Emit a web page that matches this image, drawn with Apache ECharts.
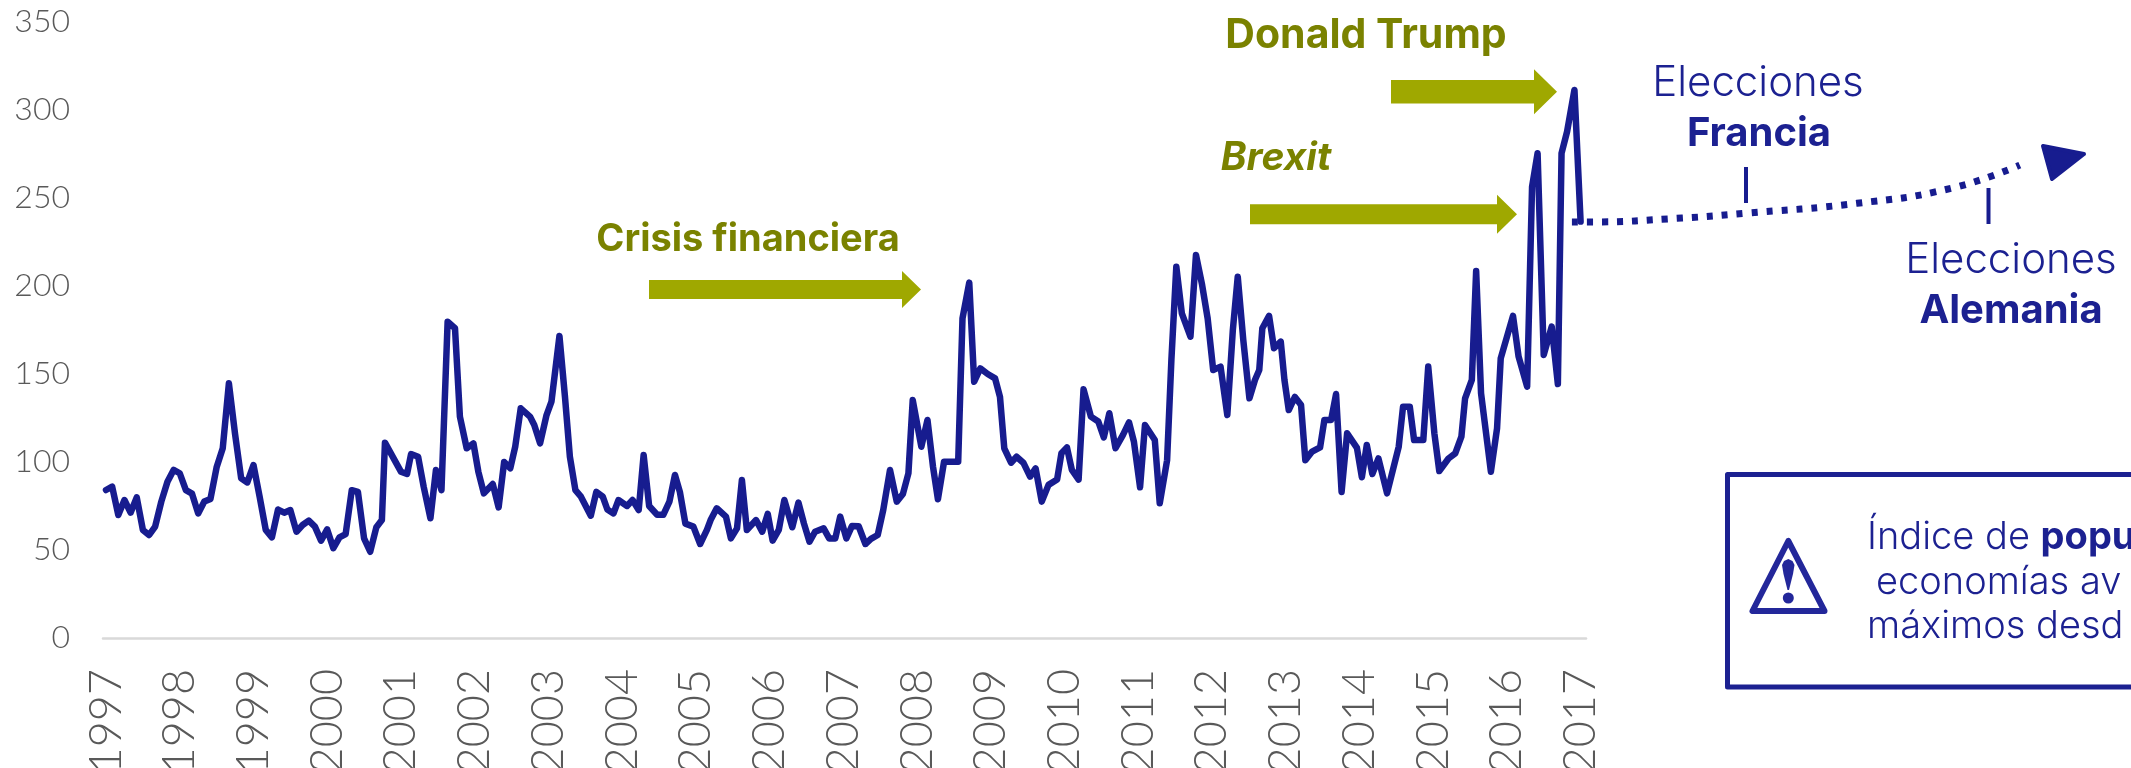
<!DOCTYPE html>
<html lang="es">
<head>
<meta charset="utf-8">
<title>Índice de populismo</title>
<style>html,body{margin:0;padding:0;background:#fff;overflow:hidden}#c{width:2131px;height:768px}</style>
<script src="https://cdn.jsdelivr.net/npm/echarts@6/dist/echarts.min.js"></script>
</head>
<body>
<div id="c"></div>
<script>
const yearLabels = [1997,1998,1999,2000,2001,2002,2003,2004,2005,2006,2007,2008,2009,2010,2011,2012,2013,2014,2015,2016,2017];
const yearMonths = [0,12,24,36,48,60,72,84,96,108,120,132,144,156,168,180,192,204,216,228,240];

// months since January 1997
const months = [
0,1,2,3,4,5,6,7,8,9,
10,11,12,13,14,15,16,17,18,19,
20,21,22,23,24,25,26,27,28,29,
30,31,32,33,34,35,36,37,38,39,
40,41,42,43,44,44.9,45.4,48,49,49.65,
50.8,51.7,52.8,53.7,54.6,55.6,56.8,57.6,58.7,59.8,
60.6,61.5,62.95,63.9,64.8,65.8,66.6,67.5,69,69.7,
70.65,71.7,72.5,73.8,74.7,75.5,76.4,77.3,78.9,79.8,
80.85,81.6,82.6,83.4,84.8,85.7,86.7,87.5,88.4,89.7,
90.7,91.7,92.6,93.4,94.3,95.6,96.7,97.8,98.4,99.4,
100.9,101.7,102.7,103.5,104.3,105.8,106.8,107.7,108.5,109.5,
110.4,111.7,112.7,113.6,114.5,115.4,116.8,117.7,118.7,119.5,
120.5,121.4,122.5,123.6,124.5,125.6,126.5,127.6,128.7,129.7,
130.6,131.3,132.7,133.7,134.6,135.4,136.4,137.5,138.7,139.4,
140.5,141.3,142.3,143.5,144.7,145.5,146.2,147.3,148.2,149.3,
150.4,151.3,152.3,153.4,154.8,155.5,156.4,157.2,158.3,159.1,
160.3,161.5,162.4,163.3,164.3,165.5,166.5,167.3,168.3,169.1,
170.7,171.5,172.7,173.4,174.2,175.1,176.5,177.4,178.4,179.3,
180.2,181.4,182.5,183.4,184.2,185.1,186.1,187,187.7,188.2,
189.3,190.1,191.2,191.8,192.5,193.5,194.5,195.2,196.3,197.6,
198.3,199.4,200.2,201.1,202,203.6,204.4,205.2,206.1,207.1,
208.5,210.4,211.1,212.2,212.9,214.4,215.2,216.2,217,218.5,
219.6,220.6,221.2,222.3,223,223.8,225.4,226.4,227,229,
229.9,231.3,232.1,233,234,235.3,236.3,236.9,237.8,239,
240
];
const populismIndex = [
84.1,86,69.9,78.4,71.2,79.9,61.4,58.5,63.3,77.5,
88.8,95.5,93.6,84,82,70.8,77.5,79,97,107.8,
144.7,116,90.7,88.4,98.3,80.3,61.4,57.2,73,71.2,
72.7,60.4,64.2,66.7,63.3,55.3,61.7,51,57.2,59,
84,83,56.6,49,62.9,67,111,94.5,93.2,104.5,
103,86,68,95.5,84,179.7,176,125.8,107.8,110.6,
94.5,82.2,87.5,74.2,100,96.4,108.7,130.5,125.8,121,
110.6,126.7,134.3,171.6,137,103,84,80.3,69.5,83,
80.3,73,70.8,78.4,75,78.4,72.7,104,75,70,
70,77.5,92.6,83,65,63.3,53.4,61.4,67,73.7,
69,56.6,62.3,89.8,61.4,67,60.4,70.5,55.3,61.4,
78.4,62.9,76.9,65,54.7,60.4,62.3,56.6,56.6,69,
56.6,63.6,63.5,53.4,56.3,58.5,72.7,95.5,77.5,81.8,
93.6,135.2,108.7,123.9,97.3,78.8,100.2,100.2,100.2,181.6,
201.9,145.6,153.2,150,147.5,137,107.8,99.6,103,99.6,
91.7,96.4,77.5,87,90,105,108.3,95.5,90,141.3,
125.8,123,114,127.7,107.8,115.3,122.5,111.6,85.6,121,
112.5,76.5,101,158,211,184.5,171.2,217.6,200.6,181.6,
152.3,154.2,126.7,175,205.3,169.3,136.2,146.6,152.3,176,
183,164.6,168.4,146.6,129.5,137,132.4,101,105.9,108.3,
123.9,123.9,138.6,83,116.3,108,91.3,109.7,93.2,102,
82.2,108.7,131.4,131.4,112.5,112.5,154.2,116.3,94.9,102,
104.9,114.4,136.2,146.6,208.5,139,94.5,119,158.9,183,
160,142.8,256.4,275.4,160.8,176.9,144.3,275.4,287.7,311.4,
236.6
];
const outlookMonths = [238.6,241.2,256.5,266.7,285,300.3,311.5];
const outlookValues = [236.4,236.4,238.6,241.3,247,255.5,268.7];

const FONT = 'Lato';
const NOTE_FONT = 'Inter';
const BLUE = '#171C8F';
const TEXT_BLUE = '#1C2191';
const OLIVE = '#7A8200';
const LIME = '#9FA800';

function arrow(xl, xb, xt, yc, bh, hh) {
  return {type:'polygon', silent:true, shape:{points:[[xl,yc-bh],[xb,yc-bh],[xb,yc-hh],[xt,yc],[xb,yc+hh],[xb,yc+bh],[xl,yc+bh]]}, style:{fill:LIME}};
}
function label(text, x, y, size, color, weight, style, align) {
  return {type:'text', silent:true, x, y, style:{text, fontFamily:NOTE_FONT, fontSize:size, fill:color, fontWeight:weight||'normal', fontStyle:style||'normal', align:align||'center', verticalAlign:'middle'}};
}
function stroke(x1,y1,x2,y2){
  return {type:'line', silent:true, shape:{x1,y1,x2,y2}, style:{stroke:BLUE, lineWidth:4}};
}

const chart = echarts.init(document.getElementById('c'));
chart.setOption({
  animation:false,
  backgroundColor:'#fff',
  textStyle:{fontFamily:FONT},
  grid:[
    {left:103, top:22, width:1483, height:616, containLabel:false, outerBoundsMode:'none'},
    {left:103, top:22, width:2028, height:616, containLabel:false, outerBoundsMode:'none'}
  ],
  xAxis:[
    {type:'value', gridIndex:0, min:-0.49, max:240.88, splitLine:{show:false}, axisTick:{show:false},
     axisLine:{show:true, onZero:false, lineStyle:{color:'#D9D9D9', width:2.5}},
     axisLabel:{customValues:yearMonths, rotate:90, margin:31, fontFamily:FONT, fontWeight:300, fontSize:45, color:'#595959',
       formatter:v=>String(yearLabels[yearMonths.indexOf(v)])}},
    {type:'value', gridIndex:1, min:-0.49, max:329.6, show:false}
  ],
  yAxis:[
    {type:'value', gridIndex:0, min:0, max:350, interval:50, splitLine:{show:false}, axisTick:{show:false}, axisLine:{show:false},
     axisLabel:{margin:33, fontFamily:FONT, fontWeight:300, fontSize:32, color:'#595959', padding:[4,0,0,0]}},
    {type:'value', gridIndex:1, min:0, max:350, show:false}
  ],
  series:[
    {type:'line', name:'Índice de populismo', xAxisIndex:0, yAxisIndex:0, symbol:'none', silent:true, clip:false,
     data:months.map((m,i)=>[m,populismIndex[i]]),
     lineStyle:{color:BLUE, width:6.5, join:'round', cap:'round'}},
    {type:'line', name:'Previsión', xAxisIndex:1, yAxisIndex:1, symbol:'none', silent:true, smooth:true, clip:false,
     data:outlookMonths.map((m,i)=>[m,outlookValues[i]]),
     lineStyle:{color:BLUE, width:7, type:[6,9]}}
  ],
  graphic:[
    arrow(649,902,921,289.5,9.5,18.5),
    arrow(1250,1497,1517,214.3,10,19.5),
    arrow(1391,1534,1557,91.7,11.7,22.5),
    label('Donald Trump',1366,36,41,OLIVE,'bold'),
    label('Brexit',1276,158,39,OLIVE,'bold','italic'),
    label('Crisis financiera',748,240,38,OLIVE,'bold'),
    label('Elecciones',1758,83,42,TEXT_BLUE,300),
    label('Francia',1759,134,40,TEXT_BLUE,'bold'),
    label('Elecciones',2011,260,42,TEXT_BLUE,300),
    label('Alemania',2011,311,40,TEXT_BLUE,'bold'),
    stroke(1746,167,1746,203),
    stroke(1988.5,188,1988.5,224),
    {type:'polygon', silent:true, shape:{points:[[2043,146],[2084,154],[2052,179]]}, style:{fill:BLUE, stroke:BLUE, lineWidth:4, lineJoin:'round'}},
    {type:'rect', silent:true, shape:{x:1727.5,y:474.5,width:500,height:212.5}, style:{fill:'none', stroke:TEXT_BLUE, lineWidth:5, lineJoin:'round'}},
    {type:'polygon', silent:true, shape:{points:[[1788.3,541],[1752.5,611],[1824.5,611]]}, style:{fill:'#fff', stroke:'#23279A', lineWidth:6, lineJoin:'round'}},
    {type:'polygon', silent:true, shape:{points:[[1782,565],[1784,561],[1788.3,559],[1792.5,561],[1794.5,565],[1793,574],[1789,590],[1787.5,590],[1783.5,574]]}, style:{fill:'#23279A'}},
    {type:'circle', silent:true, shape:{cx:1788.3,cy:598,r:5.5}, style:{fill:'#23279A'}},
    {type:'text', silent:true, x:1867, y:538, style:{text:'{a|Índice de }{b|popu}', verticalAlign:'middle', align:'left',
       rich:{a:{fontFamily:NOTE_FONT,fontWeight:300,fontSize:38,fill:TEXT_BLUE}, b:{fontFamily:NOTE_FONT,fontWeight:'bold',fontSize:38,fill:TEXT_BLUE}}}},
    label('economías av',1876,583,38,TEXT_BLUE,300,'normal','left'),
    label('máximos desd',1867,627,38,TEXT_BLUE,300,'normal','left')
  ]
});
</script>
</body>
</html>
